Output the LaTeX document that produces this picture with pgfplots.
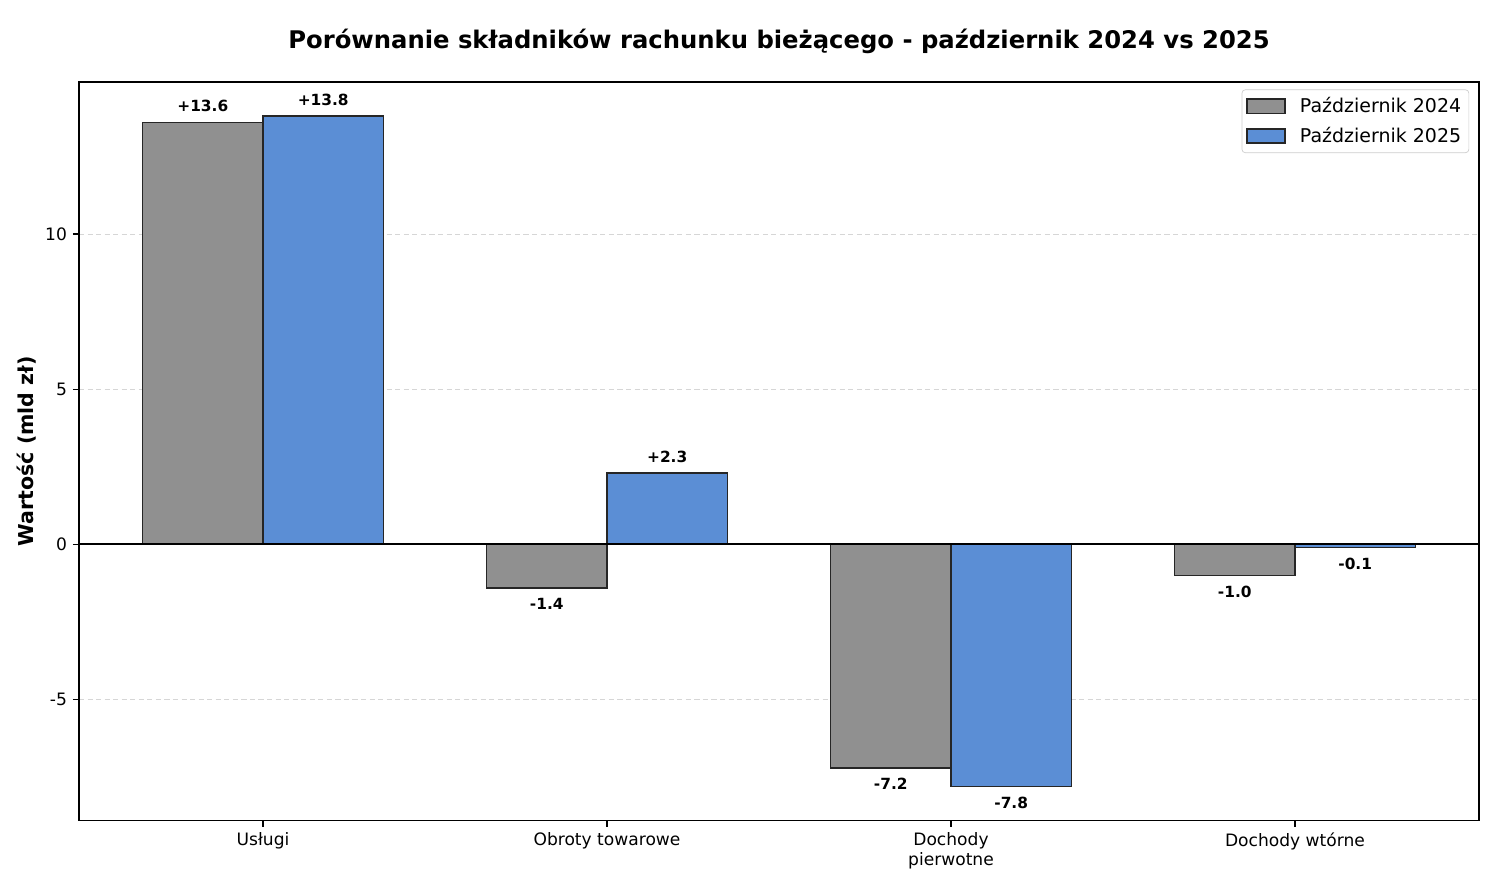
\documentclass[border=0pt]{standalone}
\usepackage{pgfplots}
\pgfplotsset{compat=1.18}
\usepackage{fontspec}
\setmainfont{DejaVu Sans}
\definecolor{gbar}{HTML}{909090}
\definecolor{bbar}{HTML}{5B8ED5}
\begin{document}
\begin{tikzpicture}
\useasboundingbox (-46.2pt,-39.2pt) rectangle (830.1pt,480pt);
\begin{axis}[
  at={(0,0)}, anchor=south west,
  scale only axis, width=819pt, height=432pt,
  xmin=-0.535, xmax=3.535, ymin=-8.9, ymax=14.9,
  xtick={0,1,2,3},
  xticklabels={Usługi, Obroty towarowe, Dochody\\pierwotne, Dochody wtórne},
  xticklabel style={align=center, font=\fontsize{10}{11.7}\selectfont},
  ytick={-5,0,5,10},
  yticklabels={-5,0,5,10},
  yticklabel style={font=\fontsize{10}{12}\selectfont},
  /pgf/number format/assume math mode=true,
  tick pos=left, tick align=outside, major tick length=3.5pt,
  tick style={black, line width=0.8pt},
  axis line style={black, line width=0.8pt},
  ymajorgrids, major grid style={black!16, dash pattern=on 3pt off 2pt, line width=0.6pt},
  title={Porównanie składników rachunku bieżącego - październik 2024 vs 2025},
  title style={at={(0.5,1)}, anchor=base, yshift=13.4pt, font=\bfseries\fontsize{14.2}{17}\selectfont},
  ylabel={Wartość (mld zł)},
  every axis y label/.style={at={(axis description cs:-0.0371,0.5)}, rotate=90, anchor=center, font=\bfseries\fontsize{12}{14}\selectfont},
  ybar, bar width=0.35,
  labelled/.style={
    point meta=y,
    nodes near coords,
    nodes near coords align=vertical,
    every node near coord/.append style={font=\bfseries\fontsize{9}{10}\selectfont, black, inner sep=5.8pt,
      /pgf/number format/.cd, fixed, fixed zerofill, precision=1, showpos, assume math mode=true},
  },
  legend style={at={(0.993,0.99)}, anchor=north east, draw=black!20, rounded corners=2pt,
    font=\fontsize{11.1}{13}\selectfont, row sep=3pt, inner sep=2.5pt},
  legend cell align=left,
  legend image code/.code={\draw[#1, sharp corners, line width=1pt] (0.05cm,-0.145cm) rectangle (0.83cm,0.145cm); \path (1.05cm,0);},
]
\addplot[fill=gbar, draw=black!85, line width=1pt, bar shift=-0.175, labelled] coordinates {
  (0,13.6) (1,-1.4) (2,-7.2) (3,-1.0)
};
\addplot[fill=bbar, draw=black!85, line width=1pt, bar shift=0.175, labelled] coordinates {
  (0,13.8) (1,2.3) (2,-7.8) (3,-0.1)
};
\legend{Październik 2024, Październik 2025}
\addplot[sharp plot, black, line width=1.2pt, forget plot] coordinates {(-0.535,0) (3.535,0)};
\end{axis}
\end{tikzpicture}
\end{document}
